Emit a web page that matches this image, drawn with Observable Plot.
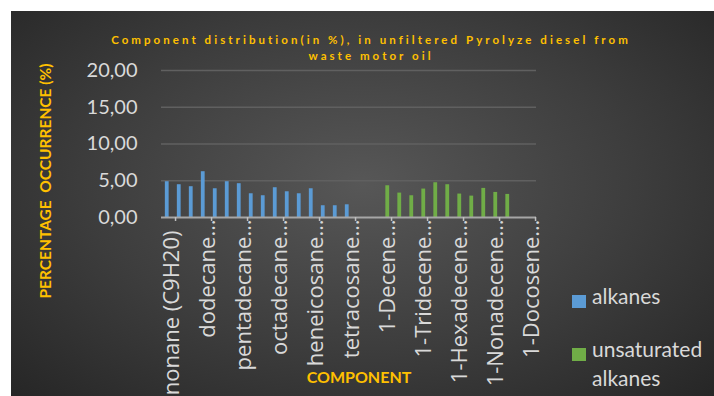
<!DOCTYPE html>
<html><head><meta charset="utf-8">
<script src="https://cdn.jsdelivr.net/npm/d3@7"></script>
<script src="https://cdn.jsdelivr.net/npm/@observablehq/plot@0.6"></script>
<style>
html,body{margin:0;padding:0;background:#fff;}
#chart{position:absolute;left:11px;top:11px;width:703px;height:385px;overflow:hidden;
 background:radial-gradient(ellipse at 50% 45%, #575757 0%, #3d3d3d 55%, #262626 100%);
 font-family:Lato, "Open Sans", sans-serif;}
#plot{position:absolute;left:0;top:0;}
#title{position:absolute;left:0;top:21px;width:720px;text-align:center;color:#ffc000;font-weight:bold;
 font-size:11.5px;letter-spacing:3.05px;line-height:16px;}
#ytitle{position:absolute;left:-116px;top:160px;width:300px;height:20px;line-height:20px;text-align:center;
 transform:rotate(-90deg);color:#ffc000;font-weight:bold;font-size:15.5px;white-space:pre;}
#xtitle{position:absolute;left:248px;width:200px;top:356px;text-align:center;color:#ffc000;font-weight:bold;font-size:16px;}
.leg{position:absolute;left:561px;color:#d9d9d9;font-size:21px;line-height:29px;}
.sw{position:absolute;left:0;width:14px;height:13px;}
.lt{position:absolute;left:20px;width:140px;}
</style></head>
<body><div id="chart">
<div id="title"></div>
<div id="ytitle"></div>
<div id="xtitle"></div>
</div>
<script>
const titleText = "Component distribution(in %), in unfiltered Pyrolyze diesel from waste motor oil";
const yTitle = "PERCENTAGE  OCCURRENCE (%)";
const xTitle = "COMPONENT";
const seriesNames = ["alkanes", "unsaturated alkanes"];
const seriesColors = ["#5b9bd5", "#70ad47"];

const alkaneNames = ["nonane (C9H20)","decane (C10H22)","undecane (C11H24)","dodecane (C12H26)","tridecane (C13H28)",
 "tetradecane (C14H30)","pentadecane (C15H32)","hexadecane (C16H34)","heptadecane (C17H36)","octadecane (C18H38)",
 "nonadecane (C19H40)","eicosane (C20H42)","heneicosane (C21H44)","docosane (C22H46)","tricosane (C23H48)",
 "tetracosane (C24H50)","pentacosane (C25H52)","hexacosane (C26H54)"];
const alkaneValues = [4.87,4.46,4.19,6.23,3.91,4.87,4.60,3.23,2.96,4.05,3.50,3.23,3.91,1.60,1.60,1.73,null,null];

const alkeneNames = ["1-Decene (C10H20)","1-Undecene (C11H22)","1-Dodecene (C12H24)","1-Tridecene (C13H26)",
 "1-Tetradecene (C14H28)","1-Pentadecene (C15H30)","1-Hexadecene (C16H32)","1-Heptadecene (C17H34)",
 "1-Octadecene (C18H36)","1-Nonadecene (C19H38)","1-Eicosene (C20H40)","1-Heneicosene (C21H42)","1-Docosene (C22H44)"];
const alkeneValues = [4.32,3.32,2.96,3.87,4.73,4.46,3.19,2.91,3.96,3.41,3.14,null,null];

const yTicks = [0,5,10,15,20];
const labelStep = 3;

const categories = alkaneNames.concat(alkeneNames);
const shortLabel = s => s.length > 14 ? s.split(" ")[0] + "\u2026" : s;
const labeled = categories.filter((d,i) => i % labelStep === 0);

const alkData = alkaneNames.map((n,i) => ({name:n, value:alkaneValues[i]})).filter(d => d.value != null);
const uaData = alkeneNames.map((n,i) => ({name:n, value:alkeneValues[i]})).filter(d => d.value != null);

const W = 703, H = 385, ML = 150, MR = 178, MT = 59, MB = 179;
const bw = (W - ML - MR) / categories.length;
const xFont = "'Open Sans', sans-serif";

const chart = Plot.plot({
  width: W, height: H, marginLeft: ML, marginRight: MR, marginTop: MT, marginBottom: MB,
  style: {background: "transparent", color: "#d9d9d9", fontFamily: "Lato, sans-serif", fontSize: "20px", overflow: "visible"},
  x: {type: "band", domain: categories, padding: 0, axis: null},
  y: {domain: [0, 20], axis: null},
  marks: [
    Plot.ruleY(yTicks.filter(d => d > 0), {stroke: "#606060", strokeWidth: 1.5}),
    Plot.barY(alkData, {x: "name", y: "value", fill: seriesColors[0], insetLeft: bw/2 - 4.2, insetRight: bw/2 + 0.3}),
    Plot.barY(uaData, {x: "name", y: "value", fill: seriesColors[1], insetLeft: bw/2 + 0.3, insetRight: bw/2 - 4.2}),
    Plot.ruleY([0], {stroke: "#a6a6a6", strokeWidth: 2}),
    Plot.ruleX(labeled, {x: d => d, y1: 0, y2: 0, insetBottom: -4, dx: bw/2, stroke: "#bfbfbf", strokeWidth: 1.5}),
    Plot.axisY(yTicks, {label: null, tickSize: 0, tickPadding: 24, fontSize: 20, tickFormat: d => d.toFixed(2).replace(".", ",")}),
    Plot.text(labeled.slice(0,1), {x: d => d, y: 0, text: shortLabel, rotate: -90, textAnchor: "end", lineAnchor: "middle", dy: 13, dx: 2, fontSize: 22, fontFamily: xFont, fill: "#d9d9d9"}),
    Plot.text(labeled.slice(1), {x: d => d, y: 0, text: shortLabel, rotate: -90, textAnchor: "end", lineAnchor: "middle", dy: 2, dx: 2, fontSize: 22, fontFamily: xFont, fill: "#d9d9d9"})
  ]
});
chart.id = "plot";
const root = document.getElementById("chart");
root.insertBefore(chart, root.firstChild);

const t = document.getElementById("title");
t.innerHTML = "";
const cut = titleText.indexOf("waste");
t.appendChild(document.createTextNode(titleText.slice(0, cut).trim()));
t.appendChild(document.createElement("br"));
t.appendChild(document.createTextNode(titleText.slice(cut)));
document.getElementById("ytitle").textContent = yTitle;
document.getElementById("xtitle").textContent = xTitle;

const legTops = [270, 323];
const legWords = [["alkanes"], ["unsaturated", "alkanes"]];
seriesNames.forEach((s, i) => {
  const g = document.createElement("div");
  g.className = "leg"; g.style.top = legTops[i] + "px";
  const sw = document.createElement("div"); sw.className = "sw"; sw.style.background = seriesColors[i]; sw.style.top = "14px";
  const lt = document.createElement("div"); lt.className = "lt"; lt.innerHTML = legWords[i].join("<br>");
  g.appendChild(sw); g.appendChild(lt);
  root.appendChild(g);
});
</script>
</body></html>
